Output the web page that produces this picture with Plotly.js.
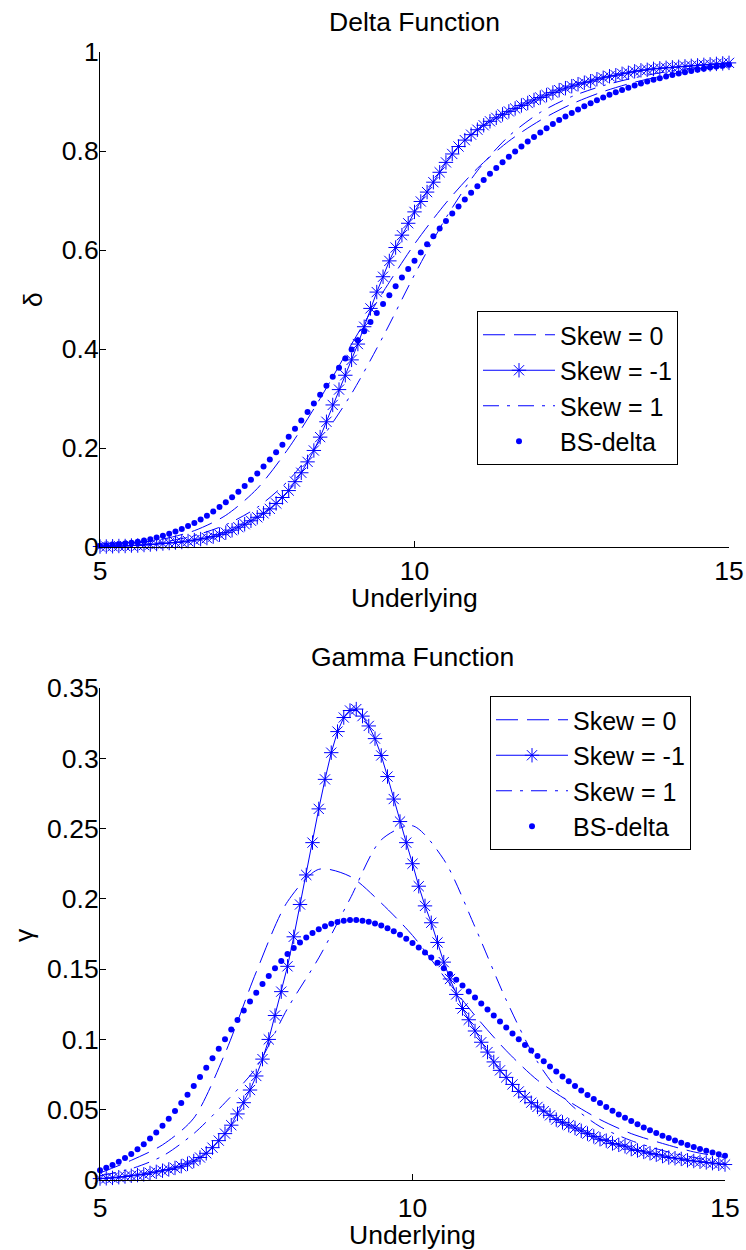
<!DOCTYPE html>
<html>
<head>
<meta charset="utf-8">
<script src="https://cdn.plot.ly/plotly-3.0.1.min.js"></script>
<style>
html, body { margin: 0; padding: 0; background: #fff; }
#chart { width: 746px; height: 1250px; }
</style>
</head>
<body>
<div id="chart"></div>
<script>
// ---------- data ----------
var underlyingFine = [5.0,5.1,5.2,5.3,5.4,5.5,5.6,5.7,5.8,5.9,
  6.0,6.1,6.2,6.3,6.4,6.5,6.6,6.7,6.8,6.9,
  7.0,7.1,7.2,7.3,7.4,7.5,7.6,7.7,7.8,7.9,
  8.0,8.1,8.2,8.3,8.4,8.5,8.6,8.7,8.8,8.9,
  9.0,9.1,9.2,9.3,9.4,9.5,9.6,9.7,9.8,9.9,
  10.0,10.1,10.2,10.3,10.4,10.5,10.6,10.7,10.8,10.9,
  11.0,11.1,11.2,11.3,11.4,11.5,11.6,11.7,11.8,11.9,
  12.0,12.1,12.2,12.3,12.4,12.5,12.6,12.7,12.8,12.9,
  13.0,13.1,13.2,13.3,13.4,13.5,13.6,13.7,13.8,13.9,
  14.0,14.1,14.2,14.3,14.4,14.5,14.6,14.7,14.8,14.9,15.0];

var underlyingCoarse = [5.0,5.5,6.0,6.5,7.0,7.5,8.0,8.5,9.0,9.5,10.0,10.5,11.0,11.5,12.0,12.5,13.0,13.5,14.0,14.5,15.0];

var seriesNames = ['Skew = 0', 'Skew = -1', 'Skew = 1', 'BS-delta'];

// Delta function
var deltaSkew0 = [0.002,0.007,0.016,0.033,0.064,0.118,0.200,0.300,0.410,0.515,0.612,0.695,0.765,0.820,0.862,0.895,0.920,0.939,0.953,0.965,0.974];
var deltaSkew1 = [0.001,0.004,0.010,0.023,0.045,0.080,0.135,0.215,0.310,0.425,0.550,0.665,0.760,0.830,0.878,0.910,0.932,0.948,0.960,0.969,0.976];
var deltaSkewM1 = [0.001,0.001,0.0015,0.002,0.002,0.003,0.003,0.004,0.005,0.006,
  0.007,0.008,0.009,0.010,0.012,0.014,0.016,0.018,0.021,0.025,
  0.029,0.034,0.040,0.046,0.053,0.060,0.068,0.077,0.088,0.100,
  0.114,0.132,0.150,0.172,0.195,0.222,0.253,0.287,0.318,0.347,
  0.378,0.410,0.445,0.482,0.515,0.546,0.578,0.605,0.630,0.654,
  0.677,0.698,0.717,0.737,0.757,0.777,0.794,0.809,0.822,0.833,
  0.843,0.852,0.860,0.867,0.874,0.880,0.886,0.892,0.897,0.903,
  0.908,0.913,0.918,0.923,0.927,0.931,0.935,0.938,0.941,0.945,
  0.948,0.951,0.953,0.956,0.958,0.961,0.963,0.964,0.966,0.967,
  0.968,0.969,0.970,0.971,0.972,0.973,0.974,0.975,0.976,0.977,0.978];
var deltaBS = [0.0026,0.0034,0.0044,0.0056,0.0070,0.0087,0.0107,0.0131,0.0158,0.0190,
  0.0226,0.0267,0.0313,0.0365,0.0423,0.0487,0.0556,0.0633,0.0716,0.0806,
  0.0903,0.1006,0.1118,0.1234,0.1359,0.1487,0.1626,0.1767,0.1913,0.2067,
  0.2227,0.2389,0.2556,0.2726,0.2901,0.3078,0.3256,0.3438,0.3621,0.3806,
  0.3990,0.4176,0.4361,0.4546,0.4729,0.4908,0.5088,0.5267,0.5442,0.5616,
  0.5785,0.5952,0.6118,0.6278,0.6436,0.6587,0.6736,0.6879,0.7019,0.7157,
  0.7287,0.7415,0.7540,0.7658,0.7773,0.7884,0.7990,0.8092,0.8191,0.8284,
  0.8374,0.8461,0.8545,0.8624,0.8699,0.8770,0.8840,0.8905,0.8967,0.9025,
  0.9081,0.9134,0.9185,0.9234,0.9279,0.9322,0.9363,0.9402,0.9437,0.9472,
  0.9504,0.9534,0.9564,0.9591,0.9616,0.9641,0.9664,0.9685,0.9705,0.9724,0.9742];

// Gamma function
var gammaSkew0 = [0.005,0.014,0.025,0.044,0.090,0.148,0.198,0.221,0.216,0.197,0.174,0.145,0.117,0.092,0.071,0.056,0.043,0.033,0.026,0.020,0.016];
var gammaSkew1 = [0.003,0.008,0.017,0.033,0.055,0.080,0.122,0.158,0.200,0.242,0.252,0.228,0.180,0.128,0.084,0.055,0.038,0.028,0.021,0.016,0.012];
var gammaSkewM1 = [0.0010,0.0012,0.0015,0.0020,0.0025,0.0030,0.0035,0.0040,0.0050,0.0058,
  0.0066,0.0075,0.0086,0.0098,0.0115,0.0135,0.0160,0.0190,0.0230,0.0280,
  0.0330,0.0390,0.0470,0.0550,0.0640,0.0740,0.0860,0.1000,0.1170,0.1340,
  0.1520,0.1730,0.1960,0.2170,0.2400,0.2640,0.2850,0.3040,0.3190,0.3290,
  0.3340,0.3350,0.3300,0.3230,0.3140,0.3020,0.2870,0.2710,0.2550,0.2400,
  0.2250,0.2090,0.1950,0.1830,0.1690,0.1550,0.1430,0.1320,0.1220,0.1140,
  0.1060,0.0980,0.0910,0.0840,0.0780,0.0730,0.0680,0.0630,0.0590,0.0550,
  0.0520,0.0490,0.0460,0.0430,0.0410,0.0390,0.0370,0.0350,0.0330,0.0310,
  0.0290,0.0280,0.0260,0.0250,0.0240,0.0220,0.0210,0.0200,0.0190,0.0180,
  0.0170,0.0160,0.0155,0.0150,0.0140,0.0135,0.0130,0.0125,0.0120,0.0115,0.0110];
var gammaBS = [0.0070,0.0087,0.0107,0.0130,0.0156,0.0185,0.0218,0.0254,0.0295,0.0338,
  0.0386,0.0436,0.0490,0.0547,0.0607,0.0669,0.0733,0.0799,0.0866,0.0934,
  0.1002,0.1070,0.1139,0.1205,0.1270,0.1332,0.1394,0.1452,0.1506,0.1558,
  0.1607,0.1650,0.1690,0.1725,0.1757,0.1784,0.1805,0.1823,0.1836,0.1845,
  0.1849,0.1849,0.1845,0.1837,0.1825,0.1810,0.1791,0.1769,0.1744,0.1716,
  0.1686,0.1654,0.1619,0.1583,0.1545,0.1506,0.1466,0.1425,0.1383,0.1341,
  0.1299,0.1256,0.1213,0.1170,0.1127,0.1085,0.1043,0.1002,0.0961,0.0922,
  0.0883,0.0845,0.0807,0.0771,0.0736,0.0702,0.0668,0.0636,0.0605,0.0576,
  0.0547,0.0519,0.0492,0.0466,0.0442,0.0419,0.0396,0.0374,0.0354,0.0334,
  0.0315,0.0298,0.0281,0.0265,0.0249,0.0235,0.0221,0.0208,0.0195,0.0184,0.0173];

var deltaTicks = [0, 0.2, 0.4, 0.6, 0.8, 1];
var gammaTicks = [0, 0.05, 0.1, 0.15, 0.2, 0.25, 0.3, 0.35];
var underlyingTicks = [5, 10, 15];

// ---------- styling ----------
var BLUE = 'rgb(0,0,255)';
var FONT = 'Liberation Sans, Arial, sans-serif';
var FS = 26.5;
var LFS = 25;

function dashTrace(x, y, name, dash, xa, ya, leg) {
  return { type: 'scatter', mode: 'lines', x: x, y: y, name: name,
    xaxis: xa, yaxis: ya, legend: leg, cliponaxis: false,
    line: { color: BLUE, width: 1, dash: dash, shape: 'spline', smoothing: 0.8 } };
}
function starTrace(x, y, name, xa, ya, leg) {
  return { type: 'scatter', mode: 'lines+markers', x: x, y: y, name: name,
    xaxis: xa, yaxis: ya, legend: leg, cliponaxis: false,
    line: { color: BLUE, width: 1 },
    marker: { symbol: 'asterisk-open', size: 12, color: BLUE, line: { color: BLUE, width: 1 } } };
}
function dotTrace(x, y, name, xa, ya, leg) {
  return { type: 'scatter', mode: 'markers', x: x, y: y, name: name,
    xaxis: xa, yaxis: ya, legend: leg, cliponaxis: false,
    marker: { symbol: 'circle', size: 6, color: BLUE, line: { width: 0 } } };
}

var LONGDASH = '22px,9px';
var DASHDOT = '16px,8px,3px,8px';

var traces = [
  dashTrace(underlyingCoarse, deltaSkew0, seriesNames[0], LONGDASH, 'x', 'y', 'legend'),
  starTrace(underlyingFine, deltaSkewM1, seriesNames[1], 'x', 'y', 'legend'),
  dashTrace(underlyingCoarse, deltaSkew1, seriesNames[2], DASHDOT, 'x', 'y', 'legend'),
  dotTrace(underlyingFine, deltaBS, seriesNames[3], 'x', 'y', 'legend'),
  dashTrace(underlyingCoarse, gammaSkew0, seriesNames[0], LONGDASH, 'x2', 'y2', 'legend2'),
  starTrace(underlyingFine, gammaSkewM1, seriesNames[1], 'x2', 'y2', 'legend2'),
  dashTrace(underlyingCoarse, gammaSkew1, seriesNames[2], DASHDOT, 'x2', 'y2', 'legend2'),
  dotTrace(underlyingFine, gammaBS, seriesNames[3], 'x2', 'y2', 'legend2')
];

function xAxis(domain, anchor, standoff) {
  return { domain: domain, anchor: anchor, range: [5, 15], tickvals: underlyingTicks,
    ticks: 'inside', ticklen: 6, tickcolor: '#000', tickwidth: 1,
    showline: true, linecolor: '#000', linewidth: 1, mirror: false,
    showgrid: false, zeroline: false, fixedrange: true,
    ticklabelstandoff: standoff,
    tickfont: { family: FONT, size: FS, color: '#000' } };
}
function yAxis(domain, anchor, range, ticks) {
  return { domain: domain, anchor: anchor, range: range, tickvals: ticks,
    ticks: 'inside', ticklen: 6, tickcolor: '#000', tickwidth: 1,
    showline: true, linecolor: '#000', linewidth: 1, mirror: false,
    showgrid: false, zeroline: false, fixedrange: true,
    ticklabelstandoff: -5,
    tickfont: { family: FONT, size: FS, color: '#000' } };
}

function ann(text, x, y, angle) {
  return { text: text, xref: 'paper', yref: 'paper', x: x, y: y,
    xanchor: 'center', yanchor: 'middle', showarrow: false, textangle: angle || 0,
    font: { family: FONT, size: FS, color: '#000' } };
}

// plot area: left 100, right 729, top 52, bottom 1180
var W = 629, H = 1128;
function px(p) { return (p - 100) / W; }
function py(p) { return (1180 - p) / H; }

var legendCommon = { xanchor: 'left', yanchor: 'top', bgcolor: '#fff', bordercolor: '#000', borderwidth: 1,
  font: { family: FONT, size: LFS, color: '#000' }, itemwidth: 72, tracegroupgap: 0, itemclick: false };

var layout = {
  width: 746, height: 1250,
  margin: { l: 100, r: 17, t: 52, b: 70, pad: 0 },
  paper_bgcolor: '#fff', plot_bgcolor: '#fff',
  font: { family: FONT, size: FS, color: '#000' },
  showlegend: true,
  xaxis: xAxis([0, 1], 'y', 0),
  yaxis: yAxis([py(547), 1], 'x', [0, 1], deltaTicks),
  xaxis2: xAxis([0, px(725)], 'y2', 4),
  yaxis2: yAxis([0, py(688)], 'x2', [0, 0.35], gammaTicks),
  legend: Object.assign({ x: px(477), y: py(311) }, legendCommon),
  legend2: Object.assign({ x: px(490), y: py(696) }, legendCommon),
  annotations: [
    ann('Delta Function', px(414), py(22)),
    ann('Underlying', px(414), py(598)),
    ann('δ', px(33), py(300), -90),
    ann('Gamma Function', px(412), py(657)),
    ann('Underlying', px(412), py(1235)),
    ann('γ', px(24), py(935), -90)
  ]
};

Plotly.newPlot('chart', traces, layout, { staticPlot: true, displayModeBar: false });
</script>
</body>
</html>
